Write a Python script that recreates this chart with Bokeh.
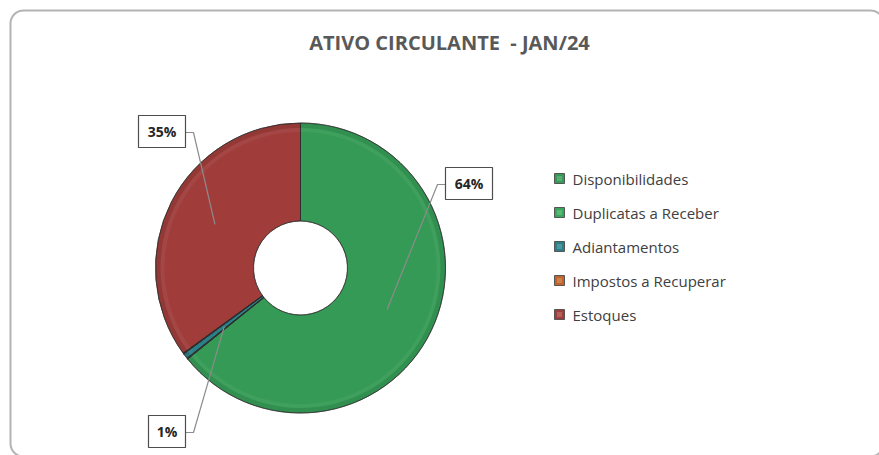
import numpy as np
from bokeh.plotting import figure
from bokeh.models import Range1d
from bokeh.core.properties import value
from bokeh.embed import file_html
from bokeh.resources import INLINE

# ---------------- data ----------------
title_text = "ATIVO CIRCULANTE \u00a0- JAN/24"
categories = ["Disponibilidades", "Duplicatas a Receber", "Adiantamentos",
              "Impostos a Recuperar", "Estoques"]
shares = [64.2, 0.1, 0.6, 0.1, 35.0]

# ---------------- styles / layout ----------------
colors = ["#359a55", "#38a65b", "#2a7f88", "#c0642a", "#a03d3b"]
W, H = 879, 455
cx, cy = 300, 187.5
r_in, r_out = 47, 145
r_lead = 96
# label box centres (layout only), None = no label
label_pos = [(468.5, 272), None, (166.5, 24), None, (161.5, 324)]

p = figure(width=W, height=H, output_backend="svg", toolbar_location=None,
           x_range=Range1d(0, W), y_range=Range1d(0, H),
           x_axis_location=None, y_axis_location=None, min_border=0)
p.grid.visible = False
p.outline_line_color = None
p.background_fill_color = "white"
p.border_fill_color = "white"

# rounded outer border
def rounded_rect(x0, y0, x1, y1, r, n=12):
    xs, ys = [], []
    corners = [(x1 - r, y1 - r, 0), (x0 + r, y1 - r, 90), (x0 + r, y0 + r, 180), (x1 - r, y0 + r, 270)]
    for ccx, ccy, a0 in corners:
        t = np.radians(np.linspace(a0, a0 + 90, n))
        xs.extend(ccx + r * np.cos(t))
        ys.extend(ccy + r * np.sin(t))
    return xs, ys

bx, by = rounded_rect(10, -1, 883, 445, 13)
p.patch(bx, by, fill_color=None, line_color="#b3b3b3", line_width=2)

# donut
total = float(sum(shares))
cum = np.concatenate([[0.0], np.cumsum(shares)]) / total * 2 * np.pi
start_cw, end_cw = cum[:-1], cum[1:]
start = np.pi / 2 - end_cw
end = np.pi / 2 - start_cw

p.annular_wedge(x=cx, y=cy, inner_radius=r_in, outer_radius=r_out,
                start_angle=start, end_angle=end, fill_color=colors,
                line_color="#3a3a3a", line_width=0.8, line_alpha=0.8)
# bevel shading near the outer edge
p.annular_wedge(x=cx, y=cy, inner_radius=r_out - 5, outer_radius=r_out,
                start_angle=start, end_angle=end, fill_color="black", fill_alpha=0.07,
                line_color=None)
p.annular_wedge(x=cx, y=cy, inner_radius=r_out - 9, outer_radius=r_out - 5,
                start_angle=start, end_angle=end, fill_color="white", fill_alpha=0.05,
                line_color=None)
p.annular_wedge(x=cx, y=cy, inner_radius=r_in, outer_radius=r_out,
                start_angle=start, end_angle=end, fill_color=None,
                line_color="#2a2a2a", line_width=0.8, line_alpha=0.8)

# data labels with leader lines
mid_cw = (start_cw + end_cw) / 2
lead_xs, lead_ys = [], []
box_x, box_y, box_w, lab_txt = [], [], [], []
for i, v in enumerate(shares):
    pct = int(round(v / total * 100))
    if label_pos[i] is None or pct < 1:
        continue
    lx, ly = label_pos[i]
    txt = f"{pct}%"
    bw = 27 + 10 * len(str(pct))
    px = cx + r_lead * np.sin(mid_cw[i])
    py = cy + r_lead * np.cos(mid_cw[i])
    if px < lx:
        ex = lx - bw / 2
        elx = ex - 8
    else:
        ex = lx + bw / 2
        elx = ex + 8
    ey = ly - 1
    lead_xs.append([ex, elx, px])
    lead_ys.append([ey, ey, py])
    box_x.append(lx); box_y.append(ly); box_w.append(bw); lab_txt.append(txt)

p.multi_line(lead_xs, lead_ys, line_color="#8c8c8c", line_width=1.2)
p.rect(x=box_x, y=box_y, width=box_w, height=32, fill_color="white",
       line_color="#4d4d4d", line_width=1.2)
p.text(x=box_x, y=box_y, text=lab_txt, text_align="center", text_baseline="middle",
       text_font=value("Open Sans"), text_font_style="bold", text_font_size="14px",
       text_color="#262626")

# title
p.text(x=[449], y=[413], text=[title_text], text_align="center", text_baseline="middle",
       text_font=value("Open Sans"), text_font_style="bold", text_font_size="20px",
       text_color="#595959")

# legend
n = len(categories)
leg_y = [277 - 34 * i for i in range(n)]
p.rect(x=[559] * n, y=leg_y, width=10, height=10, fill_color=colors,
       line_color="#555555", line_width=1)
p.rect(x=[559] * n, y=leg_y, width=5, height=5, fill_color="white",
       fill_alpha=0.18, line_color=None)
p.text(x=[572] * n, y=leg_y, text=categories, text_align="left",
       text_baseline="middle", text_font=value("Open Sans"), text_font_size="15px",
       text_color="#404040")

open("out.html", "w").write(file_html(p, INLINE))
